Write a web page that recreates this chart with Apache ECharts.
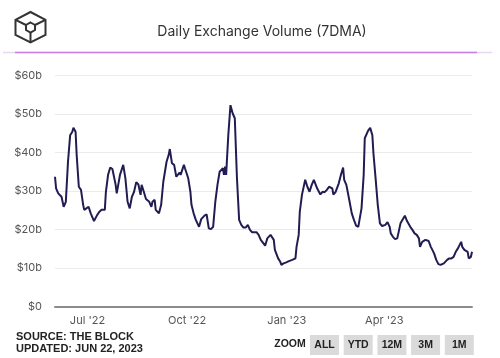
<!DOCTYPE html>
<html>
<head>
<meta charset="utf-8">
<script src="https://cdn.jsdelivr.net/npm/echarts@6/dist/echarts.min.js"></script>
<style>
  html, body { margin: 0; padding: 0; background: #fff; }
  #chart { width: 500px; height: 358px; }
</style>
</head>
<body>
<div id="chart"></div>
<script>
// Day offsets from 1 Jul 2022 and the 7-day moving average volume ($ billions)
const baseYear = 2022, baseMonth = 6, baseDay = 1;
const dayOffsets = [
  -30,-29,-27,-24,-22,-20,-18,-16,-14,-13,-11,-10,-8,-6,-4,-3,-1,1,3,6,9,11,13,14,16,17,19,21,23,26,27,30,
  33,35,37,39,41,43,45,47,49,50,52,54,57,59,60,62,63,66,68,70,73,75,76,78,80,82,83,85,86,89,90,93,95,
  96,98,100,103,105,108,110,112,114,116,118,120,122,123,125,126,127,128,130,132,134,136,138,140,142,144,146,148,150,152,156,158,
  160,161,164,166,169,172,173,176,178,179,181,183,186,189,192,193,195,196,198,199,201,203,205,207,209,212,213,215,217,219,221,223,
  226,227,229,232,234,236,237,239,242,244,246,248,250,253,255,256,259,261,263,264,266,268,270,272,275,277,279,280,282,284,286,288,289,
  290,293,295,298,300,302,304,306,307,309,312,315,317,320,322,324,326,329,332,334,336,338,340,342,343,345,346,348,349,351,352,354,355
];
const volumes = [
  33.7,30.7,29.4,28.5,25.9,27.2,37.6,44.5,45.4,46.4,45.4,39.4,31.1,30.3,26.4,25.1,25.5,25.9,24.2,22.2,23.8,24.6,25.1,25.5,25.1,29.8,34.2,36.1,35.7,31.6,29.4,34.2,
  36.8,33.3,27.2,25.5,28.5,29.8,32.3,31.7,29,31.6,29.8,27.9,27.2,25.9,27.2,27.7,25.1,24.2,26.4,32.4,37.6,39.4,40.9,37.2,36.8,33.7,34.2,34.8,34.2,36.8,35.9,33.3,29.8,
  26.4,24.2,22.5,20.7,22.7,23.6,23.9,20.3,20.1,20.7,27.2,31.6,35,34.6,35.9,34.2,36.3,34.2,44.5,52.3,50.2,48.9,33.3,22.5,21.2,20.5,20.5,21.2,19.9,19.3,19.3,18.6,
  17.3,16.8,15.8,17.7,18.6,17.3,14.7,12.5,11.6,10.8,11.2,11.4,11.8,12.1,12.5,15.5,18.6,24.6,29,30.3,32.9,31.1,29.8,31.6,32.9,30.7,30.3,29.1,29.8,29.7,30.3,31.1,
  30.7,29.1,29.7,32,34.2,36.1,32.9,31.6,27.2,24.2,22.5,21,20.7,25.5,34.2,43.7,45.6,46.4,44.5,39.8,33.3,26.4,21.6,20.9,21.2,21.9,20.7,19,18.1,17.5,17.7,20.3,21.6,
  22,23.6,22.2,20.7,19.9,19,18.6,17.7,15.5,16.8,17.3,17,15.5,13.8,12.1,11,10.8,11.2,12.1,12.5,12.5,12.9,14.2,15.1,15.5,16.8,15.5,14.7,15.1,14.2,12.5,12.9,14.2
];
const xTickDates = [[2022, 6, 1], [2022, 9, 1], [2023, 0, 1], [2023, 3, 1]];
const monthNames = ['Jan','Feb','Mar','Apr','May','Jun','Jul','Aug','Sep','Oct','Nov','Dec'];
const yTicks = [0, 10, 20, 30, 40, 50, 60];
const zoomButtons = ['ALL', 'YTD', '12M', '3M', '1M'];

const DAY = 86400000;
const base = new Date(baseYear, baseMonth, baseDay).getTime();
const seriesData = dayOffsets.map((d, i) => [base + d * DAY, volumes[i]]);
const xTickValues = xTickDates.map(a => new Date(a[0], a[1], a[2]).getTime());

const chart = echarts.init(document.getElementById('chart'), null, { renderer: 'canvas' });

const graphics = [
  // logo
  { type: 'polygon', shape: { points: [[30.5,12],[45.5,19.8],[45.5,34.8],[30.5,42.5],[15.5,34.8],[15.5,19.8]] },
    style: { fill: 'none', stroke: '#333', lineWidth: 2 } },
  { type: 'polygon', shape: { points: [[30.5,22.5],[35,25],[35,30],[30.5,32.5],[26,30],[26,25]] },
    style: { fill: 'none', stroke: '#333', lineWidth: 2 } },
  { type: 'polyline', shape: { points: [[15.5,19.8],[26,25]] }, style: { stroke: '#333', lineWidth: 2 } },
  { type: 'polyline', shape: { points: [[45.5,19.8],[35,25]] }, style: { stroke: '#333', lineWidth: 2 } },
  { type: 'polyline', shape: { points: [[30.5,32.5],[30.5,42.5]] }, style: { stroke: '#333', lineWidth: 2 } },
  // header separator
  { type: 'line', shape: { x1: 3, y1: 52.5, x2: 492, y2: 52.5 }, style: { stroke: '#e6d8ee', lineWidth: 1.5 } },
  { type: 'line', shape: { x1: 15, y1: 52.5, x2: 477, y2: 52.5 }, style: { stroke: '#c77fe8', lineWidth: 1.5 } },
  // source text
  { type: 'text', left: 16, top: 331, style: { text: 'SOURCE: THE BLOCK', font: 'bold 11px "Liberation Sans", Arial, sans-serif', fill: '#222' } },
  { type: 'text', left: 16, top: 343, style: { text: 'UPDATED: JUN 22, 2023', font: 'bold 11px "Liberation Sans", Arial, sans-serif', fill: '#222' } },
  { type: 'text', x: 290, y: 344.5, style: { text: 'ZOOM', font: 'bold 10.5px "Liberation Sans", Arial, sans-serif', fill: '#222', align: 'center', verticalAlign: 'middle' } }
];
zoomButtons.forEach((b, i) => {
  const x0 = 310 + i * 33.7;
  graphics.push({ type: 'rect', shape: { x: x0, y: 335, width: 29, height: 20 }, style: { fill: '#dadada' } });
  graphics.push({ type: 'text', x: x0 + 14.5, y: 345, style: { text: b, font: 'bold 10.5px "Liberation Sans", Arial, sans-serif', fill: '#222', align: 'center', verticalAlign: 'middle' } });
});

chart.setOption({
  animation: false,
  title: {
    text: 'Daily Exchange Volume (7DMA)',
    left: 257, top: 20, textAlign: 'center',
    textStyle: { fontFamily: 'Inter, Roboto, sans-serif', fontSize: 14, fontWeight: 'normal', color: '#333' }
  },
  grid: { left: 55, right: 28, top: 75.5, bottom: 51.5, containLabel: false },
  xAxis: {
    type: 'value',
    min: 'dataMin', max: 'dataMax',
    axisLine: { show: true, lineStyle: { color: '#8c8c8c', width: 2 } },
    axisTick: { show: false },
    splitLine: { show: false },
    axisLabel: {
      customValues: xTickValues,
      margin: 9,
      color: '#555', fontSize: 11, fontFamily: 'Inter, Roboto, sans-serif',
      formatter: v => { const d = new Date(v); return monthNames[d.getMonth()] + " '" + String(d.getFullYear()).slice(2); }
    }
  },
  yAxis: {
    type: 'value', min: yTicks[0], max: yTicks[yTicks.length - 1], interval: 10,
    axisLine: { show: false }, axisTick: { show: false },
    splitLine: { lineStyle: { color: '#ebebeb', width: 1 } },
    axisLabel: {
      margin: 13, color: '#555', fontSize: 11, fontFamily: 'Inter, Roboto, sans-serif',
      formatter: v => v === 0 ? '$0' : '$' + v + 'b'
    }
  },
  series: [{
    type: 'line',
    data: seriesData,
    showSymbol: false,
    symbol: 'none',
    lineStyle: { color: '#211d52', width: 2 },
    z: 3
  }],
  graphic: graphics
});
</script>
</body>
</html>
